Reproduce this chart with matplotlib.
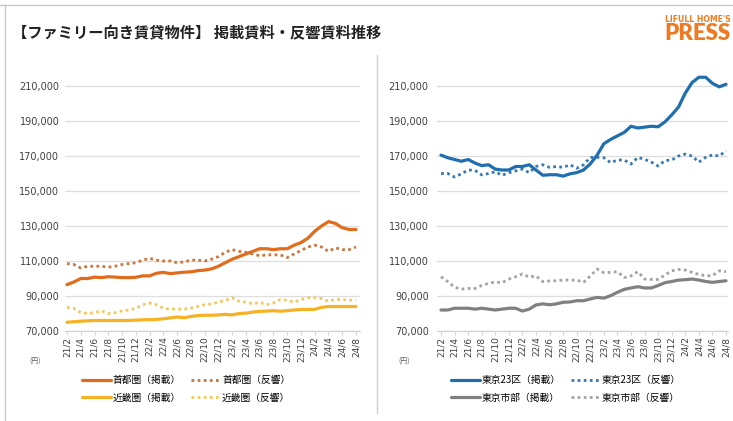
import matplotlib.pyplot as plt
from matplotlib.lines import Line2D
from matplotlib.ticker import FuncFormatter

plt.rcParams['font.family'] = ['Noto Sans CJK JP', 'DejaVu Sans']

# monthly labels 21/2 .. 24/8
months = [f"{y}/{m}" for y in range(21, 25) for m in range(1, 13)][1:44]

# 首都圏 / 近畿圏 (thousand yen)
shuto_list = [96.5, 98, 100, 100, 100.8, 100.5, 101, 100.8, 100.5, 100.5, 100.7,
              101.5, 101.5, 103, 103.5, 102.8, 103.2, 103.6, 103.8, 104.5, 104.8, 105.5, 107,
              109, 111, 112.5, 114, 115.5, 117, 117, 116.5, 117, 117, 119, 120.5,
              123, 127, 130, 132.5, 131.5, 129, 128, 128]
shuto_resp = [108.5, 108, 106, 107, 107, 107, 106.5, 107, 108, 108.5, 109,
              110.5, 111.5, 110.5, 110, 110, 109, 109.5, 110.5, 110.5, 110, 111, 112.5,
              115, 116.5, 115.5, 115, 114, 113, 113.5, 113.5, 113.5, 112, 114, 116,
              118, 119, 118, 115.5, 117.5, 116.5, 116.5, 118]
kinki_list = [75, 75.3, 75.6, 75.8, 76, 76, 76, 76, 76, 76, 76.2,
              76.4, 76.5, 76.6, 77, 77.5, 78, 77.6, 78.3, 78.8, 79, 79, 79.2,
              79.5, 79.2, 80, 80.2, 80.8, 81.2, 81.4, 81.6, 81.3, 81.6, 82, 82.3,
              82.3, 82.4, 83.5, 84, 84, 84, 84, 84]
kinki_resp = [83.5, 83, 80.5, 80, 80.5, 81.5, 80, 80.5, 81.5, 82, 83,
              85, 86, 85, 83, 82.5, 82.5, 82.5, 83, 84, 85, 85.5, 86.5,
              87.5, 89, 87, 86.5, 85.5, 86.5, 85, 86, 88, 87.5, 86.5, 88,
              89, 89, 88.5, 87, 88, 88, 87.5, 88]

# 東京23区 / 東京市部 (thousand yen)
t23_list = [170.5, 169, 168, 167, 168, 166, 164.5, 165, 162.5, 162, 162,
            164, 164, 165, 162, 159, 159.3, 159.3, 158.5, 159.8, 160.5, 162, 165.5,
            170.5, 177, 179.5, 181.5, 183.5, 187, 186, 186.5, 187, 186.7, 189.5, 193.5,
            198, 206, 212, 215, 215, 211.5, 209.5, 211]
t23_resp = [160, 160, 158, 159.8, 162, 161.8, 159.2, 160, 161, 159, 160.4,
            161.5, 162.5, 160.5, 164, 165, 163.5, 164, 163.5, 165, 163, 165, 169.2,
            169.2, 169, 166.2, 167.7, 167.7, 165.4, 169.2, 168.1, 166.5, 164.3, 167.4, 167.7,
            170, 171.1, 170, 166.5, 169.2, 170.6, 170, 173]
tshi_list = [82, 82, 83, 83, 83, 82.5, 83, 82.5, 82, 82.5, 83,
             83, 81.4, 82.5, 84.9, 85.5, 85, 85.5, 86.4, 86.6, 87.3, 87.3, 88.3,
             89.2, 88.8, 90.2, 92.1, 93.8, 94.6, 95.3, 94.6, 94.6, 96, 97.6, 98.3,
             99.1, 99.3, 99.7, 99.1, 98.3, 97.8, 98.3, 98.7]
tshi_resp = [101, 98.2, 95, 93.9, 94.3, 94.3, 96, 97.2, 98, 97.6, 99.7,
             101, 102.6, 100.8, 101.5, 98.2, 98.6, 98.7, 99.1, 99.1, 99.1, 97.8, 101.4,
             105.4, 103.3, 103.5, 103.9, 100.6, 101.5, 103.9, 99.7, 99.5, 99.5, 102, 104.4,
             105.2, 104.8, 103.5, 102.3, 101.6, 101.6, 104.4, 103.9]

left_series = [
    ("首都圏（掲載）", shuto_list, "#E06C1C", "-"),
    ("近畿圏（掲載）", kinki_list, "#F5B223", "-"),
    ("首都圏（反響）", shuto_resp, "#C8763F", ":"),
    ("近畿圏（反響）", kinki_resp, "#F5C85C", ":"),
]
right_series = [
    ("東京23区（掲載）", t23_list, "#1F6EAD", "-"),
    ("東京市部（掲載）", tshi_list, "#808080", "-"),
    ("東京23区（反響）", t23_resp, "#3479B5", ":"),
    ("東京市部（反響）", tshi_resp, "#A3A3A3", ":"),
]

fig = plt.figure(figsize=(7.33, 4.21), dpi=100)
W, H = 733, 421

def draw_panel(rect, series, xlim, legend_x, yen_x, pad):
    ax = fig.add_axes(rect)
    x = list(range(len(months)))
    handles = []
    for label, vals, color, ls in series:
        vals = [v * 1000 for v in vals]
        if ls == "-":
            h, = ax.plot(x, vals, color=color, lw=2.3, solid_capstyle="round", label=label)
        else:
            h, = ax.plot(x, vals, color=color, lw=2.0, linestyle=(0, (1, 1.2)), label=label)
        handles.append(h)
    ax.set_ylim(70000, 220000)
    ax.set_xlim(*xlim)
    ax.set_yticks(range(70000, 210001, 20000))
    ax.yaxis.set_major_formatter(FuncFormatter(lambda v, p: f"{int(v):,}"))
    ax.set_xticks(x[::2])
    ax.set_xticklabels(months[::2], rotation=90, fontsize=6.5, color="#404040",
                       family="DejaVu Sans")
    ax.tick_params(axis="y", length=0, labelsize=7, labelcolor="#404040", pad=pad)
    ax.tick_params(axis="x", length=3, color="#d9d9d9", pad=1)
    ax.grid(axis="y", color="#dedede", lw=0.9)
    for s in ["top", "right", "left"]:
        ax.spines[s].set_visible(False)
    ax.spines["bottom"].set_color("#d0d0d0")
    ax.set_axisbelow(True)
    for t in ax.get_yticklabels():
        t.set_family("DejaVu Sans")
    fig.text(yen_x / W, 1 - 362 / H, "(円)", fontsize=5, color="#606060", ha="center", va="center")
    fig.legend(handles, [h.get_label() for h in handles], loc="center",
               bbox_to_anchor=(legend_x / W, 1 - 389 / H), ncol=2, frameon=False,
               fontsize=7, handlelength=3.0, handletextpad=0.2, columnspacing=1.0,
               labelspacing=0.75)
    return ax

draw_panel([65 / W, 1 - 331 / H, 295 / W, 262.5 / H], left_series, (-0.29, 42.58), 186, 35, 4)
draw_panel([437 / W, 1 - 331 / H, 291 / W, 262.5 / H], right_series, (-0.59, 42.29), 566, 404, 6)

# frame lines
fig.add_artist(Line2D([0, 1], [1 - 5 / H, 1 - 5 / H], color="#c8c8c8", lw=1))
fig.add_artist(Line2D([5 / W, 5 / W], [0, 1 - 5 / H], color="#c8c8c8", lw=1))
fig.add_artist(Line2D([377 / W, 377 / W], [1 - 55 / H, 1 - 413 / H], color="#d0d0d0", lw=1))

fig.text(12 / W, 1 - 33 / H, "【ファミリー向き賃貸物件】 掲載賃料・反響賃料推移",
         fontsize=11, fontweight="bold", color="#222222", va="center", ha="left")
fig.text(731 / W, 1 - 19 / H, "LIFULL HOME'S", fontsize=5.6, fontweight="bold",
         color="#EE7A22", family="DejaVu Sans", va="center", ha="right")
fig.text(731 / W, 1 - 33 / H, "PRESS", fontsize=16, fontweight="heavy",
         color="#EE7A22", family="Lato", va="center", ha="right")

fig.savefig("out.png", dpi=100)
